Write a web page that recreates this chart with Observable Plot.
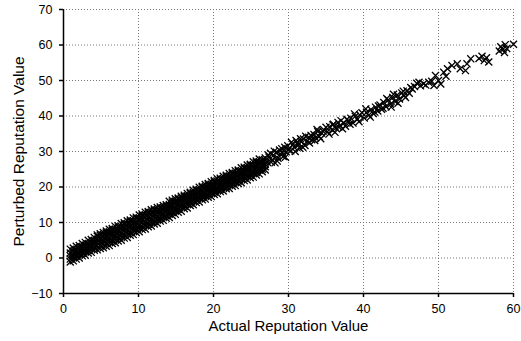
<!DOCTYPE html>
<html>
<head>
<meta charset="utf-8">
<script src="https://cdn.jsdelivr.net/npm/d3@7"></script>
<script src="https://cdn.jsdelivr.net/npm/@observablehq/plot@0.6"></script>
<style>
  html, body { margin: 0; padding: 0; background: #fff; }
  #chart { width: 521px; height: 341px; }
</style>
</head>
<body>
<div id="chart"></div>
<script>
// Tick values
const xTicks = [0, 10, 20, 30, 40, 50, 60];
const yTicks = [-10, 0, 10, 20, 30, 40, 50, 60, 70];

// Dense band: actual values (columns) and the perturbed values read at each column
const bandX = [0.9,1.3,1.7,2.1,2.5,2.9,3.3,3.7,4.1,4.5,4.9,5.3,5.7,6.1,6.5,6.9,7.3,7.7,8.1,8.5,8.9,9.3,9.7,
  10.1,10.5,10.9,11.3,11.7,12.1,12.5,12.9,13.3,13.7,14.1,14.5,14.9,15.3,15.7,16.1,16.5,16.9,17.3,17.7,18.1,18.5,18.9,19.3,19.7,
  20.1,20.5,20.9,21.3,21.7,22.1,22.5,22.9,23.3,23.7,24.1,24.5,24.9,25.3,25.7,26.1,26.5,26.9];
const bandY = [
  [-1.1,-0.3,0.6,1.4,2.5],[-0.8,0.3,1.0,2.0,2.8],[-0.3,0.5,1.5,2.2,3.3],[0.0,1.1,1.8,2.8,3.5],
  [0.6,1.3,2.3,3.0,4.1],[0.8,1.9,2.6,3.6,4.4],[1.4,2.1,3.2,3.9,5.0],[1.6,2.7,3.4,4.4,5.2],
  [2.2,2.9,4.0,4.7,5.8],[2.3,3.5,4.2,5.3,6.1,6.5],[2.7,3.6,4.6,5.4,6.4,6.8],[2.9,4.0,4.8,5.9,6.6,7.2],
  [3.3,4.2,5.3,6.1,7.1,7.6],[3.5,4.7,5.5,6.7,7.4,8.1],[4.1,4.9,6.1,6.8,7.9,8.3],[4.3,5.5,6.2,7.4,8.1,8.9],
  [4.8,5.7,6.8,7.6,8.7,9.1],[5.0,6.2,7.0,8.2,8.9,9.7],[5.6,6.4,7.6,8.4,9.5,9.9],[5.8,7.0,7.8,9.0,9.7,10.5],
  [6.4,7.2,8.4,9.1,10.3,10.7],[6.6,7.8,8.5,9.7,10.5,11.3],[7.2,8.0,9.1,9.9,11.1,11.5],
  [7.4,8.5,9.3,10.5,11.3,12.1],[8.0,8.7,9.9,10.7,11.9,12.3],[8.2,9.3,10.1,11.3,12.1,12.9],[8.8,9.5,10.7,11.5,12.7,13.1],
  [9.0,10.1,10.9,12.1,12.9,13.6],[9.6,10.3,11.5,12.3,13.4,13.8],[9.8,10.9,11.7,12.9,13.6,14.2],[10.4,11.1,12.3,13.0,14.1,14.4],
  [10.6,11.7,12.4,13.6,14.2,14.8],[11.2,11.9,13.0,13.7,14.6,15.0],[11.4,12.5,13.2,14.3,15.1,16.0],[12.0,12.8,13.9,14.7,15.8,16.3],
  [12.3,13.4,14.2,15.3,16.0,16.7],[12.9,13.7,14.8,15.5,16.6,16.9],[13.2,14.4,15.1,16.2,16.9,17.4],[13.9,14.6,15.7,16.4,17.4,17.7],
  [14.1,15.2,15.9,17.0,17.6,18.2],[14.8,15.5,16.5,17.2,18.2,18.5],[15.0,16.1,16.7,17.8,18.5,19.1],[15.6,16.3,17.3,18.0,19.1,19.4],
  [15.8,16.9,17.5,18.6,19.3,19.9],[16.4,17.1,18.1,18.8,19.9,20.2],[16.6,17.6,18.3,19.4,20.1,20.7],[17.1,17.8,18.9,19.6,20.6,21.0],
  [17.3,18.4,19.1,20.1,20.8,21.5],
  [17.9,18.6,19.6,20.3,21.4,21.8],[18.1,19.1,19.8,20.9,21.6,22.3],[18.7,19.3,20.4,21.1,22.2,22.5],[18.9,19.9,20.6,21.7,22.4,23.0],
  [19.5,20.1,21.2,21.9,22.9,23.3],[19.6,20.7,21.4,22.5,23.1,23.8],[20.2,20.9,22.0,22.7,23.7,24.1],[20.4,21.5,22.2,23.3,23.9,24.6],
  [21.0,21.7,22.8,23.4,24.5,24.8],[21.2,22.3,23.0,24.0,24.6,25.4],[21.8,22.5,23.6,24.2,25.3,25.6],[22.0,23.1,23.8,24.9,25.5,26.2],
  [22.6,23.3,24.4,25.0,26.1,26.4],[22.8,23.9,24.6,25.7,26.3,27.1],[23.4,24.1,25.2,25.9,26.9,27.3],[23.7,24.8,25.4,26.6,27.1,27.9],
  [24.3,25.0,26.1,26.8,27.7],[24.8,25.7,26.4,27.5,28.2]
];

// Sparser upper part: actual and perturbed values
const sparseX = [
  27.2,27.4,27.6,27.8,28.0,28.2,28.4,28.6,
  28.9,29.1,29.3,29.5,29.7,29.9,
  30.3,30.6,30.8,31.0,31.3,31.5,31.7,32.0,32.2,32.5,32.7,
  33.1,33.4,33.6,33.9,34.1,34.4,34.7,
  35.2,35.5,35.8,36.0,36.3,36.6,36.9,37.2,37.4,
  38.0,38.3,38.6,38.9,39.2,39.5,
  40.1,40.4,40.7,41.0,41.3,41.6,41.9,42.2,42.4,42.7,43.0,43.3,43.6,43.9,44.2,44.5,44.8,45.1,45.4,45.8,46.1,46.5,46.8,47.1,
  47.4,48.0,48.7,49.4,49.6,50.0,50.7,51.2,51.8,52.5,52.9,53.6,53.8,54.3,
  55.4,55.8,56.1,56.4,56.7,
  58.1,58.3,58.6,58.9,59.1,58.8,60.0
];
const sparseY = [
  26.9,28.4,29.5,27.6,28.9,26.8,29.8,28.1,
  29.3,30.8,28.6,31.2,29.9,31.6,
  30.2,32.0,31.1,33.1,31.8,30.9,32.8,33.5,31.7,32.9,34.0,
  33.3,34.8,33.9,35.6,34.2,35.2,36.1,
  35.6,37.0,36.1,37.7,36.6,38.2,37.3,36.4,38.0,
  38.6,39.4,38.0,39.9,39.1,40.3,
  39.4,41.0,40.2,41.8,40.7,42.5,41.4,43.1,41.9,43.8,42.6,44.5,43.3,45.2,44.1,45.9,44.8,46.5,45.7,47.1,46.4,47.6,48.3,49.2,
  49.5,49.1,49.5,48.6,51.4,50.0,52.3,53.3,54.2,54.7,53.3,52.8,54.7,56.1,
  56.2,56.8,55.6,56.4,55.2,
  58.3,59.5,58.8,60.1,59.0,57.9,60.2
];

// Additional scattered points in the clusters between 27 and 51
const extraX = [27.3,27.7,28.1,28.5,28.8,29.2,29.6,30.0,30.4,30.9,31.2,31.6,31.9,32.3,32.8,33.0,33.5,33.8,34.3,34.6,
  35.0,35.4,35.9,36.2,36.7,37.0,37.6,37.8,38.2,38.8,39.4,39.8,40.3,40.9,41.5,42.0,42.6,43.1,43.7,44.0,
  44.6,45.3,45.6,46.3,47.6,48.3,49.1,50.3,51.0];
const extraY = [29.0,27.0,30.1,27.3,30.4,29.6,28.4,30.5,32.6,30.0,32.4,33.6,31.2,34.3,32.4,34.5,33.1,36.2,33.6,35.7,
  36.8,34.9,37.5,35.4,36.9,38.7,37.1,39.1,37.7,40.6,38.4,40.9,42.0,39.7,41.1,42.8,42.2,44.9,42.5,46.1,
  43.6,47.0,45.2,48.0,48.5,48.7,49.8,49.0,51.2];

const points = [
  ...bandX.flatMap((x, i) => bandY[i].map(y => ({x, y}))),
  ...sparseX.map((x, i) => ({x, y: sparseY[i]})),
  ...extraX.map((x, i) => ({x, y: extraY[i]}))
];

const font = "'Liberation Sans', Arial, Helvetica, sans-serif";

const chart = Plot.plot({
  width: 521,
  height: 341,
  marginLeft: 63,
  marginRight: 8,
  marginTop: 9,
  marginBottom: 48,
  style: { fontFamily: font, fontSize: "12px", color: "black", background: "white" },
  x: { domain: [0, 60], ticks: xTicks },
  y: { domain: [-10, 70], ticks: yTicks },
  marks: [
    Plot.gridX(xTicks, { stroke: "#777", strokeOpacity: 1, strokeDasharray: "1,2", strokeWidth: 1 }),
    Plot.gridY(yTicks, { stroke: "#777", strokeOpacity: 1, strokeDasharray: "1,2", strokeWidth: 1 }),
    Plot.dot(points, { x: "x", y: "y", symbol: "times", r: 3.3, stroke: "black", strokeWidth: 1.3 }),
    Plot.axisX(xTicks, { tickSize: 4, tickPadding: 7, strokeWidth: 1.5, label: null, fontSize: 12.5 }),
    Plot.axisY(yTicks, { tickSize: 4, tickPadding: 7, strokeWidth: 1.5, label: null, fontSize: 12.5 }),
    Plot.ruleX([0], { stroke: "black", strokeWidth: 1.5 }),
    Plot.ruleY([-10], { stroke: "black", strokeWidth: 1.5 }),
    Plot.text(["Actual Reputation Value"], { frameAnchor: "bottom", lineAnchor: "middle", textAnchor: "middle", dy: 33, fontSize: 15, fill: "black" }),
    Plot.text(["Perturbed Reputation Value"], { frameAnchor: "left", lineAnchor: "middle", textAnchor: "middle", dx: -44, rotate: -90, fontSize: 15.5, fill: "black" })
  ]
});
document.getElementById("chart").appendChild(chart);
</script>
</body>
</html>
